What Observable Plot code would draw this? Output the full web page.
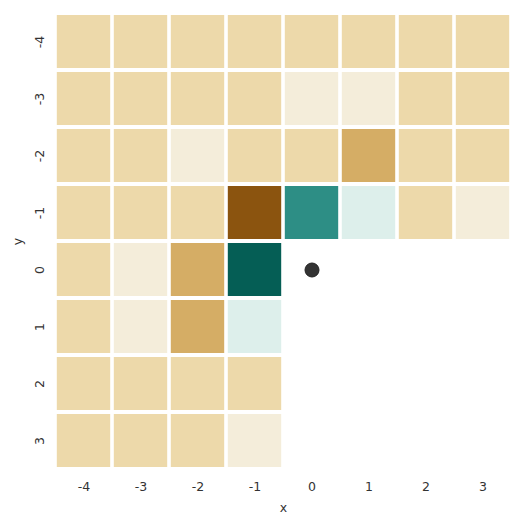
<!DOCTYPE html>
<html><head><meta charset="utf-8">
<script src="https://cdn.jsdelivr.net/npm/d3@7"></script>
<script src="https://cdn.jsdelivr.net/npm/@observablehq/plot@0.6"></script>
<style>body{margin:0;background:#fff}</style>
</head><body><div id="chart"></div>
<script>
const xCats = [-4, -3, -2, -1, 0, 1, 2, 3];
const yCats = [-4, -3, -2, -1, 0, 1, 2, 3];
// one row per y category, values per x category (null = no cell)
const rowM4 = [-0.27, -0.27, -0.27, -0.27, -0.27, -0.27, -0.27, -0.27];
const rowM3 = [-0.27, -0.27, -0.27, -0.27, -0.1, -0.1, -0.27, -0.27];
const rowM2 = [-0.27, -0.27, -0.1, -0.27, -0.27, -0.46, -0.27, -0.27];
const rowM1 = [-0.27, -0.27, -0.27, -0.8, 0.64, 0.1, -0.27, -0.1];
const row0 = [-0.27, -0.1, -0.46, 0.84, null, null, null, null];
const row1 = [-0.27, -0.1, -0.46, 0.1, null, null, null, null];
const row2 = [-0.27, -0.27, -0.27, -0.27, null, null, null, null];
const row3 = [-0.27, -0.27, -0.27, -0.1, null, null, null, null];
const rows = [rowM4, rowM3, rowM2, rowM1, row0, row1, row2, row3];
const pointX = [0];
const pointY = [0];

const cells = [];
rows.forEach((r, i) => r.forEach((v, j) => {
  if (v !== null) cells.push({x: xCats[j], y: yCats[i], v});
}));
const points = pointX.map((x, i) => ({x, y: pointY[i]}));

const chart = Plot.plot({
  width: 525,
  height: 525,
  marginLeft: 53,
  marginRight: 12,
  marginTop: 10,
  marginBottom: 53,
  style: {fontFamily: "DejaVu Sans", fontSize: "12.5px", color: "#333", background: "#fff"},
  x: {domain: xCats, padding: 0, label: "x"},
  y: {domain: yCats, padding: 0, label: "y"},
  color: {type: "linear", scheme: "BrBG", domain: [-1, 1]},
  marks: [
    Plot.cell(cells, {x: "x", y: "y", fill: "v", insetLeft: 1.8, insetRight: 1.8, insetTop: 2, insetBottom: 2}),
    Plot.dot(points, {x: "x", y: "y", r: 7, fill: "#333", stroke: "#222", strokeWidth: 1}),
    Plot.axisX({tickSize: 0, tickPadding: 10, label: "x", labelAnchor: "center", labelOffset: 39, labelArrow: "none"}),
    Plot.axisY({tickSize: 0, tickPadding: 10, tickRotate: -90, label: "y", labelAnchor: "center", labelOffset: 40, labelArrow: "none"})
  ]
});
document.getElementById("chart").appendChild(chart);
</script></body></html>
